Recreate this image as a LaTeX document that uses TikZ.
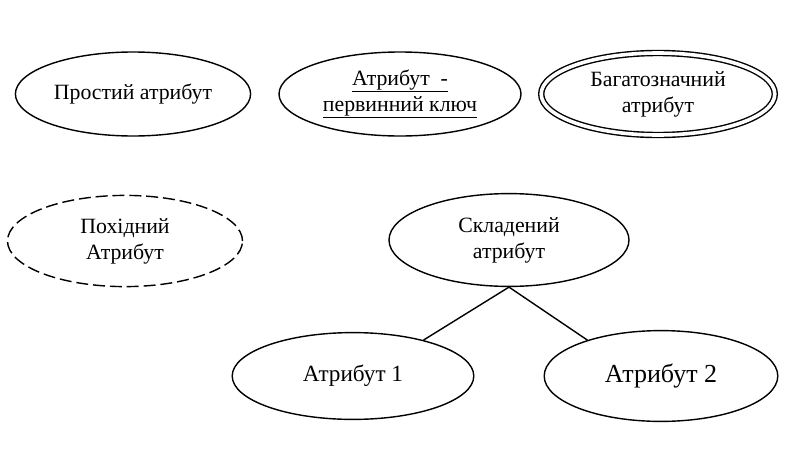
\documentclass[tikz,border=0pt]{standalone}
\usepackage{fontspec}
\setmainfont{Liberation Serif}
\usetikzlibrary{shapes,positioning}

\begin{document}
\begin{tikzpicture}[line width=1pt,
  attr/.style={draw, ellipse, inner sep=0pt, align=center, font=\fontsize{15.5}{18.5}\selectfont}]
\useasboundingbox (0,0) rectangle (19.75,-11.2);
% верхній ряд
\node[attr, minimum width=5.88cm, minimum height=2.1cm] (simple) at (3.325,-2.35) {Простий атрибут};
\node[attr, minimum width=6.05cm, minimum height=2.1cm] (key) at (10.0,-2.35) {\underline{Атрибут\ \ -}\\\underline{первинний ключ}};
\node[attr, double, double distance=0.09cm, minimum width=5.84cm, minimum height=2.05cm] (multi) at (16.45,-2.35) {Багатозначний\\атрибут};

% похідний і складений
\node[attr, dashed, dash pattern=on 8.5pt off 3.5pt, minimum width=5.875cm, minimum height=2.28cm] (derived) at (3.125,-6.025) {Похідний\\Атрибут};
\node[attr, minimum width=6.0cm, minimum height=2.32cm] (compound) at (12.725,-6.0) {Складений\\атрибут};

% складові
\node[attr, font=\fontsize{16.5}{19}\selectfont, minimum width=6.04cm, minimum height=2.17cm] (part1) at (8.825,-9.4) {Атрибут 1};
\node[attr, font=\fontsize{18.5}{21}\selectfont, minimum width=5.84cm, minimum height=2.27cm] (part2) at (16.525,-9.4) {Атрибут 2};

% зв'язки
\draw (compound.south) -- (part1.27);
\draw (compound.south) -- (part2.154);
\end{tikzpicture}
\end{document}
